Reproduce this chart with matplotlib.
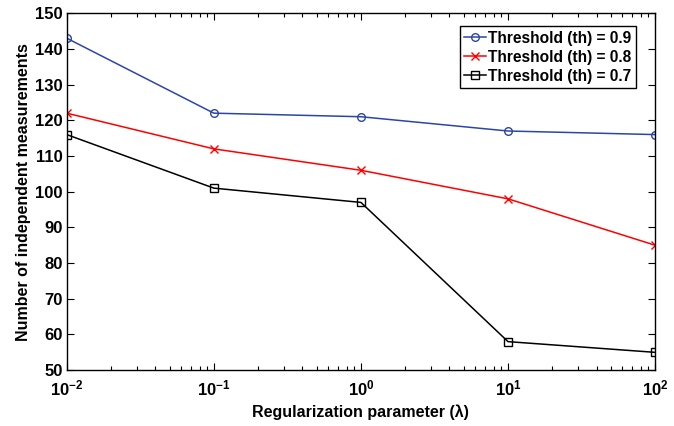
import matplotlib
matplotlib.use("Agg")
import matplotlib.pyplot as plt
from matplotlib.ticker import LogLocator, NullFormatter

lam = [1e-2, 1e-1, 1e0, 1e1, 1e2]
th09 = [143, 122, 121, 117, 116]
th08 = [122, 112, 106, 98, 85]
th07 = [116, 101, 97, 58, 55]
labels = ["Threshold (th) = 0.9", "Threshold (th) = 0.8", "Threshold (th) = 0.7"]

plt.rcParams['font.family'] = ['Liberation Sans', 'DejaVu Sans']
plt.rcParams['font.weight'] = 'bold'
plt.rcParams['mathtext.fontset'] = 'custom'
plt.rcParams['mathtext.rm'] = 'Liberation Sans:bold'
plt.rcParams['mathtext.it'] = 'Liberation Sans:bold'
plt.rcParams['mathtext.bf'] = 'Liberation Sans:bold'

fig = plt.figure(figsize=(6.74, 4.26), dpi=100)
ax = fig.add_axes([0.099, 0.131, 0.873, 0.838])

ax.plot(lam, th09, color='#2b46a6', marker='o', mfc='none', ms=5.5, lw=1.1, label=labels[0])
ax.plot(lam, th08, color='#ff0000', marker='x', ms=5.5, lw=1.1, label=labels[1])
ax.plot(lam, th07, color='black', marker='s', mfc='none', ms=5.5, lw=1.1, label=labels[2])

ax.set_xscale('log')
ax.set_xlim(1e-2, 1e2)
ax.set_ylim(50, 150)
ax.set_yticks(range(50, 151, 10))
ax.xaxis.set_minor_locator(LogLocator(base=10, subs=range(2, 10)))
ax.xaxis.set_minor_formatter(NullFormatter())
ax.tick_params(which='both', direction='in', top=True, right=True, labelsize=12, width=0.8)
ax.tick_params(which='major', length=5)
ax.tick_params(which='minor', length=3)
ax.tick_params(axis='x', pad=6)
ax.tick_params(axis='y', pad=3)
for s in ax.spines.values():
    s.set_linewidth(1.0)

ax.set_xlabel('Regularization parameter (λ)', fontsize=11.5, fontweight='bold', labelpad=4)
ax.set_ylabel('Number of independent measurements', fontsize=11.5, fontweight='bold', labelpad=3)

leg = ax.legend(loc='upper right', fontsize=11.2, fancybox=False, edgecolor='black',
                framealpha=1, handlelength=1.4, handletextpad=0.15, borderpad=0.3,
                labelspacing=0.25, borderaxespad=0, bbox_to_anchor=(0.968, 0.964))
leg.get_frame().set_linewidth(1.0)

fig.savefig('out.png', dpi=100)
